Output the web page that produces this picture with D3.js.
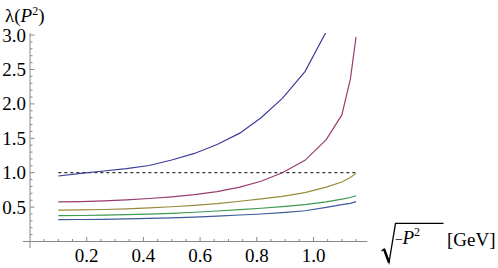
<!DOCTYPE html>
<html>
<head>
<meta charset="utf-8">
<script src="https://cdn.jsdelivr.net/npm/d3@7"></script>
<style>
  body { margin: 0; background: #fff; }
  svg text { font-family: "Liberation Serif", "DejaVu Serif", serif; }
</style>
</head>
<body>
<div id="chart"></div>
<script>
// Data
var momenta = [0.1, 0.18, 0.26, 0.34, 0.42, 0.5, 0.58, 0.66, 0.74, 0.815, 0.89, 0.97, 1.045, 1.10, 1.13, 1.15];
var lambda1 = [0.952, 0.99, 1.025, 1.06, 1.105, 1.185, 1.28, 1.41, 1.575, 1.80, 2.08, 2.47, 3.05, null, null, null];
var lambda2 = [0.575, 0.58, 0.59, 0.605, 0.625, 0.65, 0.68, 0.725, 0.79, 0.875, 1.0, 1.18, 1.48, 1.84, 2.36, 2.97];
var lambda3 = [0.455, 0.46, 0.465, 0.475, 0.49, 0.505, 0.525, 0.55, 0.585, 0.62, 0.655, 0.71, 0.79, 0.865, 0.93, 0.99];
var lambda4 = [0.375, 0.378, 0.383, 0.39, 0.398, 0.41, 0.425, 0.443, 0.462, 0.483, 0.507, 0.535, 0.575, 0.615, 0.64, 0.665];
var lambda5 = [0.317, 0.32, 0.323, 0.328, 0.335, 0.343, 0.355, 0.37, 0.385, 0.40, 0.42, 0.447, 0.495, 0.535, 0.555, 0.58];
var seriesList = [lambda1, lambda2, lambda3, lambda4, lambda5];
var seriesColors = ["#3d3d99", "#993d71", "#998b3d", "#3d9954", "#3d5a99"];
var xTickLabels = [0.2, 0.4, 0.6, 0.8, 1.0];
var yTickLabels = [0.5, 1.0, 1.5, 2.0, 2.5, 3.0];
var referenceLevel = 1.0;

////////////////////////////////////////////////////////////////////////////////
var svgWidth = 498;
var svgHeight = 268;
var serif = "'Liberation Serif', 'DejaVu Serif', serif";

var svg = d3.select("#chart").append("svg")
    .attr("width", svgWidth)
    .attr("height", svgHeight)
    .attr("font-family", serif);

// Scales (origin of the axes sits at (0, 0))
var x = d3.scaleLinear().domain([0, 1.0]).range([30, 313.5]);
var y = d3.scaleLinear().domain([0, 3.0]).range([241.5, 35.1]);

var axisColor = "#888";

// Clip at the plot range
svg.append("clipPath").attr("id", "plotClip")
    .append("rect")
    .attr("x", x(-0.03)).attr("y", y(3.03))
    .attr("width", x(1.2) - x(-0.03))
    .attr("height", y(-0.1) - y(3.03));

////////////////////////////////////////////////////////////////////////////////
// Axes
var axes = svg.append("g").attr("stroke", axisColor).attr("stroke-width", 1);

axes.append("line")
    .attr("x1", x(-0.025)).attr("x2", x(1.19))
    .attr("y1", y(0)).attr("y2", y(0));
axes.append("line")
    .attr("x1", x(0)).attr("x2", x(0))
    .attr("y1", y(-0.095)).attr("y2", y(3.03));

// x ticks every 0.05, long ones every 0.2
d3.range(1, 24).forEach(function (i) {
    var v = i * 0.05;
    var major = (i % 4 === 0);
    axes.append("line")
        .attr("x1", x(v)).attr("x2", x(v))
        .attr("y1", y(0)).attr("y2", y(0) - (major ? 4.5 : 2.5));
});

// y ticks every 0.1, long ones every 0.5
d3.range(1, 31).forEach(function (i) {
    var v = i * 0.1;
    var major = (i % 5 === 0);
    axes.append("line")
        .attr("x1", x(0)).attr("x2", x(0) + (major ? 4.5 : 2.5))
        .attr("y1", y(v)).attr("y2", y(v));
});

// tick labels
svg.selectAll(".xlab").data(xTickLabels).enter().append("text")
    .attr("class", "xlab")
    .attr("x", function (d) { return x(d); })
    .attr("y", 262)
    .attr("text-anchor", "middle")
    .style("font-size", "19px")
    .text(function (d) { return d.toFixed(1); });

svg.selectAll(".ylab").data(yTickLabels).enter().append("text")
    .attr("class", "ylab")
    .attr("x", 26)
    .attr("y", function (d) { return y(d) + 6.5; })
    .attr("text-anchor", "end")
    .style("font-size", "19px")
    .text(function (d) { return d.toFixed(1); });

////////////////////////////////////////////////////////////////////////////////
// Axis titles
var yTitle = svg.append("text").attr("x", 5).attr("y", 22).style("font-size", "19px");
yTitle.append("tspan").text("λ(");
yTitle.append("tspan").style("font-style", "italic").text("P");
yTitle.append("tspan").attr("dy", -7).style("font-size", "12px").text("2");
yTitle.append("tspan").attr("dy", 7).text(")");

svg.append("path")
    .attr("d", "M381.5,251 L384,249 L389,262.5 L395.5,223.3 L443.5,223.3")
    .attr("fill", "none")
    .attr("stroke", "#000")
    .attr("stroke-width", 1.3)
    .attr("stroke-linejoin", "miter");
svg.append("path")
    .attr("d", "M384,249 L389,262.5")
    .attr("stroke", "#000")
    .attr("stroke-width", 2.4);

svg.append("text")
    .attr("x", 395).attr("y", 244)
    .style("font-size", "14px")
    .text("−");
var xTitle = svg.append("text").attr("x", 402.5).attr("y", 243.5).style("font-size", "19px");
xTitle.append("tspan").style("font-style", "italic").text("P");
xTitle.append("tspan").attr("dy", -8).style("font-size", "12px").text("2");

svg.append("text")
    .attr("x", 447).attr("y", 246)
    .style("font-size", "19px")
    .text("[GeV]");

////////////////////////////////////////////////////////////////////////////////
// Curves
var plot = svg.append("g").attr("clip-path", "url(#plotClip)");

plot.append("line")
    .attr("x1", x(momenta[0])).attr("x2", x(momenta[momenta.length - 1]))
    .attr("y1", y(referenceLevel)).attr("y2", y(referenceLevel))
    .attr("stroke", "#000")
    .attr("stroke-width", 1)
    .attr("stroke-dasharray", "3,3");

var line = d3.line()
    .defined(function (d) { return d[1] !== null; })
    .x(function (d) { return x(d[0]); })
    .y(function (d) { return y(d[1]); });

seriesList.forEach(function (values, i) {
    var pts = momenta.map(function (m, j) { return [m, values[j]]; });
    plot.append("path")
        .datum(pts)
        .attr("d", line)
        .attr("fill", "none")
        .attr("stroke", seriesColors[i])
        .attr("stroke-width", 1.2);
});
</script>
</body>
</html>
